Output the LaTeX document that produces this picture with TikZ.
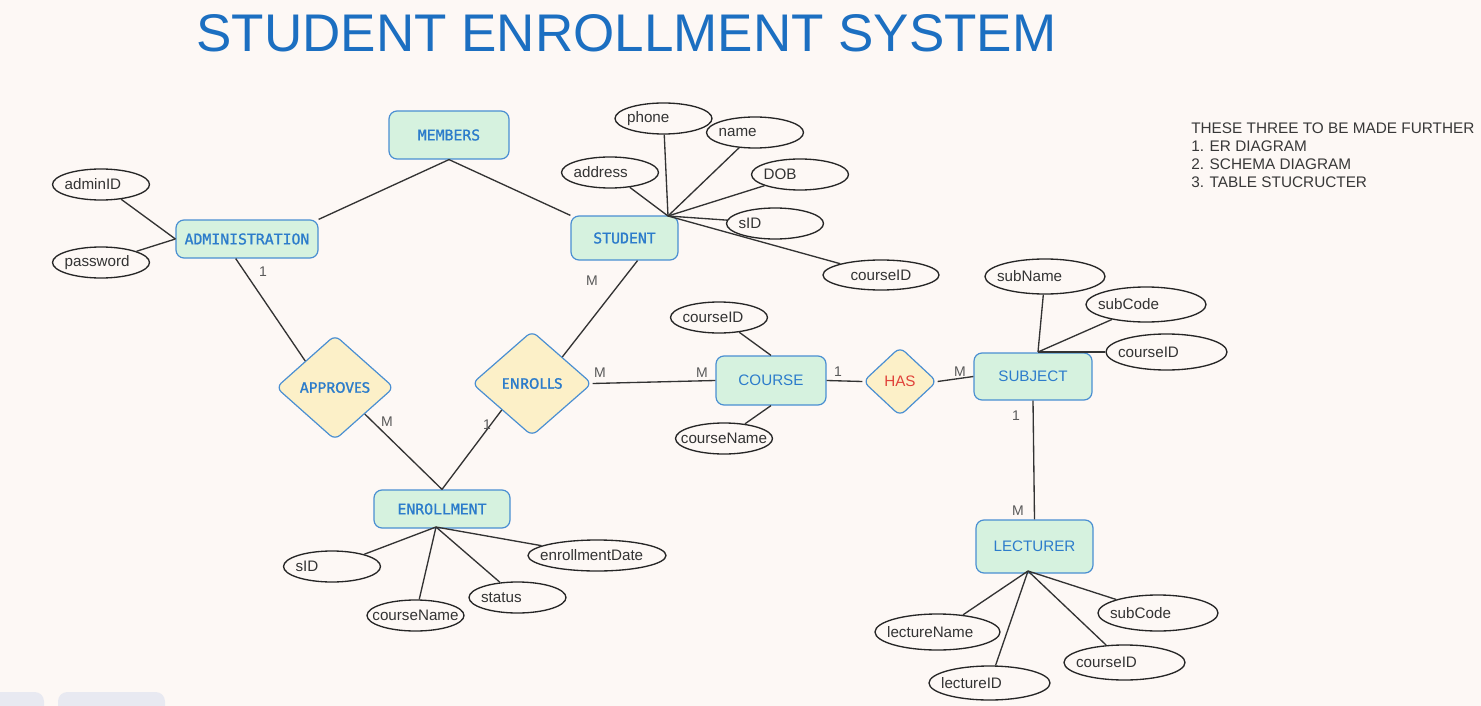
\documentclass[tikz,border=0pt]{standalone}
\usepackage{fontspec}
\setmainfont{Liberation Sans}
\newfontfamily\entmono[FakeBold=1.2]{DejaVu Sans Mono}
\newfontfamily\relsans[FakeBold=1.2]{Fira Sans}
\usepackage{xcolor}
\usepackage{tikz}
\usetikzlibrary{shapes.geometric,positioning}

\definecolor{bgcol}{HTML}{FDF8F5}
\definecolor{entfill}{HTML}{D6F2DF}
\definecolor{relfill}{HTML}{FCF0C8}
\definecolor{boxblue}{HTML}{4A8FD2}
\definecolor{txtblue}{HTML}{2C7CCB}
\definecolor{titleblue}{HTML}{1C6FC1}
\definecolor{hasred}{HTML}{E0423A}
\definecolor{tabgray}{HTML}{E8E9F1}

\begin{document}
\begin{tikzpicture}[
  x=0.75pt, y=-0.75pt,
  font=\fontsize{11.4}{13.5}\selectfont,
  ent/.style={draw=boxblue, fill=entfill, rounded corners=6pt, line width=0.9pt, text=txtblue, inner sep=0pt},
  monoent/.style={ent, font=\entmono\fontsize{11.1}{12}\selectfont},
  rel/.style={diamond, draw=boxblue, fill=relfill, rounded corners=5pt, line width=0.9pt, text=txtblue, inner sep=0pt},
  attr/.style={ellipse, draw=black!85, line width=1pt, inner sep=0pt, inner xsep=-12pt, minimum width=72.75pt, minimum height=23.25pt, text=black!80},
  attrl/.style={attr, label={[lbl]west:#1}},
  lbl/.style={anchor=west, inner sep=0pt, xshift=9.4pt, text=black!80},
  link/.style={draw=black!80, line width=1pt},
  card/.style={text=black!65, inner sep=0pt, font=\fontsize{10.5}{12}\selectfont}
]
\fill[bgcol] (0,0) rectangle (1481,706);
\useasboundingbox (0,0) rectangle (1481,706);
\fill[tabgray, rounded corners=7pt] (-10,720) rectangle (44,692);
\fill[tabgray, rounded corners=7pt] (58,720) rectangle (165,692);

% title and notes
\node[anchor=base, text=titleblue, inner sep=0pt, font=\fontsize{39.75}{44}\selectfont] (title) at (626.5,52) {STUDENT ENROLLMENT SYSTEM};
\node[anchor=north west, align=left, inner sep=0pt, text=black!78, font=\fontsize{11.5}{13.5}\selectfont] (notes) at (1191,123)
  {THESE THREE TO BE MADE FURTHER\\1. ER DIAGRAM\\2. SCHEMA DIAGRAM\\3. TABLE STUCRUCTER};

% entities
\node[monoent, minimum width=90pt, minimum height=36pt] (members) at (449,135) {MEMBERS};
\node[monoent, minimum width=106.5pt, minimum height=28.5pt] (admin) at (247,239) {ADMINISTRATION};
\node[monoent, minimum width=80.25pt, minimum height=33pt] (student) at (624.5,238) {STUDENT};
\node[monoent, minimum width=102pt, minimum height=28.5pt] (enrollment) at (442,509) {ENROLLMENT};
\node[ent, minimum width=82.5pt, minimum height=36.75pt] (course) at (771,380.5) {COURSE};
\node[ent, minimum width=88.5pt, minimum height=35.25pt] (subject) at (1033,376.5) {SUBJECT};
\node[ent, minimum width=87.75pt, minimum height=39.75pt] (lecturer) at (1034.5,546.5) {LECTURER};

% relationships
\node[rel, font=\relsans\fontsize{11.3}{12}\selectfont, minimum width=88.5pt, minimum height=78.75pt] (approves) at (335,387.5) {APPROVES};
\node[rel, font=\relsans\fontsize{11.3}{12}\selectfont, minimum width=90pt, minimum height=78.75pt] (enrolls) at (532,383.5) {ENROLLS};
\node[rel, text=hasred, minimum width=55.5pt, minimum height=51.75pt] (has) at (900,381.5) {HAS};

% attributes
\node[attrl=adminID] (adminID) at (101,184.5) {};
\node[attrl=password, lbl/.append style={xshift=1.5pt}] (password) at (101,262.5) {};
\node[attrl=phone] (phone) at (663.5,118.5) {};
\node[attrl=name] (sname) at (755,132.5) {};
\node[attrl=address] (address) at (610,172.5) {};
\node[attrl=DOB] (dob) at (800,174.5) {};
\node[attrl=sID] (ssid) at (775,223.5) {};
\node[attr, minimum width=87pt, minimum height=22.5pt] (scid) at (881,275) {courseID};
\node[attrl=courseID] (ccid) at (719,317.5) {};
\node[attr] (cname) at (724,438.5) {courseName};
\node[attrl=subName, minimum width=90pt, minimum height=26.25pt] (subname) at (1045,276.5) {};
\node[attrl=subCode, minimum width=90pt, minimum height=26.25pt] (subcode) at (1146,304.5) {};
\node[attrl=courseID, minimum width=90.75pt, minimum height=27pt] (subcid) at (1166.5,352) {};
\node[attrl=sID] (esid) at (332,566.5) {};
\node[attr] (ecname) at (415.5,615.5) {courseName};
\node[attrl=status] (estatus) at (517.5,597.5) {};
\node[attrl=enrollmentDate, minimum width=103.5pt] (edate) at (597,555.5) {};
\node[attrl=lectureName, minimum width=93.75pt, minimum height=27pt] (lname) at (937.5,632) {};
\node[attrl=lectureID, minimum width=90.75pt, minimum height=25.5pt] (lid) at (989.5,683) {};
\node[attrl=courseID, minimum width=90.75pt, minimum height=26.25pt] (lcid) at (1124.5,662.5) {};
\node[attrl=subCode, minimum width=90pt, minimum height=27pt] (lcode) at (1158,613) {};

% hubs where attribute lines meet
\coordinate (stuHub) at (668,216);
\coordinate (subHub) at (1038,352);
\coordinate (enrHub) at (436,527);
\coordinate (lecHub) at (1028,571);

% relationship lines
\draw[link] (members.south) -- (admin.north east);
\draw[link] (members.south) -- (student.north west);
\draw[link] (admin.240) -- (approves.north west);
\draw[link] (approves.south east) -- (enrollment.north);
\draw[link] (enrollment.north) -- (enrolls.south west);
\draw[link] (enrolls.north east) -- (student.300);
\draw[link] (enrolls.east) -- (course.west);
\draw[link] (course.east) -- (has.west);
\draw[link] (has.east) -- (subject.west);
\draw[link] (subject.south) -- (lecturer.north);

% attribute lines
\draw[link] (adminID) -- (admin.west);
\draw[link] (password) -- (admin.west);
\foreach \a in {phone,sname,address,dob,ssid,scid}
  \draw[link] (stuHub) -- (\a);
\draw[link] (ccid) -- (course.north);
\draw[link] (cname) -- (course.south);
\foreach \a in {subname,subcode,subcid}
  \draw[link] (subHub) -- (\a);
\foreach \a in {esid,ecname,estatus,edate}
  \draw[link] (enrHub) -- (\a);
\foreach \a in {lname,lid,lcid,lcode}
  \draw[link] (lecHub) -- (\a);

% cardinalities
\node[card] (c1) at (263,272) {1};
\node[card] (c2) at (387,422) {M};
\node[card] (c3) at (487,425) {1};
\node[card] (c4) at (592,281) {M};
\node[card] (c5) at (600,373) {M};
\node[card] (c6) at (702,373) {M};
\node[card] (c7) at (838,372) {1};
\node[card] (c8) at (960,372) {M};
\node[card] (c9) at (1016,416) {1};
\node[card] (c10) at (1018,511) {M};
\end{tikzpicture}
\end{document}
